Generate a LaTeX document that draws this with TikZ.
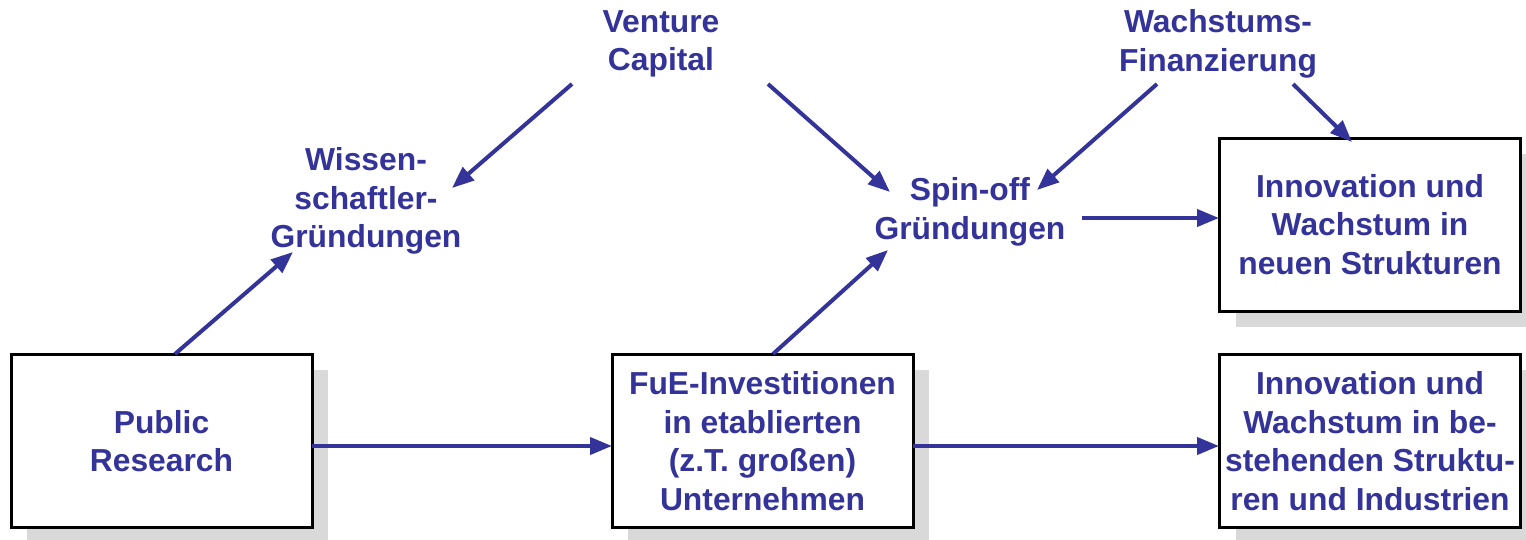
\documentclass[tikz,border=0pt]{standalone}
\usepackage{fontspec}
\setmainfont{Liberation Sans}
\usetikzlibrary{arrows.meta,calc}
\definecolor{ink}{HTML}{333399}
\definecolor{shade}{HTML}{D9D9D9}
\begin{document}
\begin{tikzpicture}[x=1pt,y=-1pt,
  lbl/.style={text=ink,font=\fontsize{31.8}{38.5}\selectfont\bfseries,align=center,inner sep=0pt},
  boxnode/.style={lbl,draw=black,line width=3pt,fill=white,minimum width=301pt,minimum height=173pt},
  shadowbox/.style={fill=shade,minimum width=301pt,minimum height=173pt,inner sep=0pt},
  arr/.style={draw=ink,line width=4pt,-{Triangle[length=22pt,width=17pt]}}]
\useasboundingbox (0,0) rectangle (1526,539);
% shadows
\node[shadowbox] (pubs) at (177.5,456.5) {};
\node[shadowbox] (fues) at (778.5,456.5) {};
\node[shadowbox] (inno1s) at (1386,240) {};
\node[shadowbox] (inno2s) at (1386,456.5) {};
% boxes
\node[boxnode] (pub) at (161.5,441) {Public\\Research};
\node[boxnode] (fue) at (762.5,441) {FuE-Investitionen\\in etablierten\\(z.T. gro\ss en)\\Unternehmen};
\node[boxnode] (inno1) at (1370,224.5) {Innovation und\\Wachstum in\\neuen Strukturen};
\node[boxnode] (inno2) at (1370,441) {Innovation und\\Wachstum in be-\\stehenden Struktu-\\ren und Industrien};
% labels
\node[lbl] (vc) at (661,44) {Venture\\Capital};
\node[lbl] (wf) at (1218,44) {Wachstums-\\Finanzierung};
\node[lbl] (wiss) at (366,201) {Wissen-\\schaftler-\\Gr\"undungen};
\node[lbl] (spin) at (970,212) {Spin-off\\Gr\"undungen};
% arrows
\draw[arr] ($(pub)+(13.5,-87)$) -- ($(wiss)+(-73,51)$);
\draw[arr] ($(pub)+(150.5,5)$) -- ($(fue)+(-150.5,5)$);
\draw[arr] ($(fue)+(150.5,5)$) -- ($(inno2)+(-151,5)$);
\draw[arr] ($(fue)+(10.5,-87)$) -- ($(spin)+(-82,38)$);
\draw[arr] ($(vc)+(-89,40)$) -- ($(wiss)+(86,-13)$);
\draw[arr] ($(vc)+(107,40)$) -- ($(spin)+(-80,-20)$);
\draw[arr] ($(wf)+(-61,40)$) -- ($(spin)+(67,-22)$);
\draw[arr] ($(wf)+(75,40)$) -- ($(inno1)+(-18,-82.5)$);
\draw[arr] ($(spin)+(112,6)$) -- ($(inno1)+(-151,-6.5)$);
\end{tikzpicture}
\end{document}
